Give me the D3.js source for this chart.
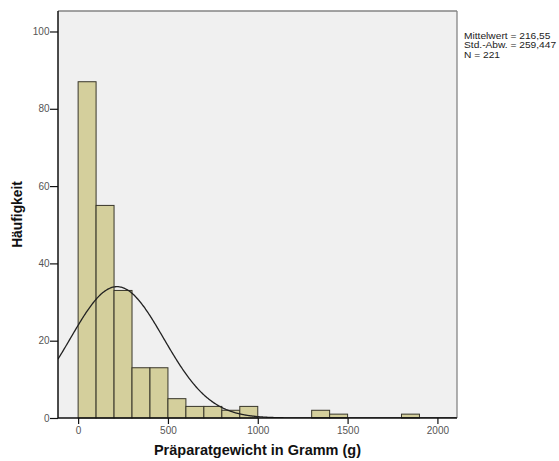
<!DOCTYPE html>
<html>
<head>
<meta charset="utf-8">
<script src="https://cdn.jsdelivr.net/npm/d3@7"></script>
<style>
  body { margin: 0; background: #fff; }
  svg { font-family: "Liberation Sans", Arial, sans-serif; }
</style>
</head>
<body>
<div id="chart-area"></div>
<script>
// histogram bins (lower edge, width 100) and counts
var binStarts = [0, 100, 200, 300, 400, 500, 600, 700, 800, 900, 1300, 1400, 1800];
var counts    = [87, 55, 33, 13, 13, 5, 3, 3, 2, 3, 2, 1, 1];
var binWidth = 100;

var xTicks = [0, 500, 1000, 1500, 2000];
var yTicks = [0, 20, 40, 60, 80, 100];

var mean = 216.55, sd = 259.447, n = 221;
var statLines = ["Mittelwert = 216,55", "Std.-Abw. = 259,447", "N = 221"];

var margin = {left: 58, right: 102, top: 11, bottom: 43};
var width = 559 - margin.left - margin.right;
var height = 461 - margin.top - margin.bottom;

var svg = d3.select("#chart-area").append("svg")
    .attr("width", 559)
    .attr("height", 461);

var g = svg.append("g")
    .attr("transform", "translate(" + margin.left + "," + margin.top + ")");

var x = d3.scaleLinear()
    .domain([-112, 2109])
    .range([0, width]);

var y = d3.scaleLinear()
    .domain([0, 105.3])
    .range([height, 0]);

g.append("rect")
    .attr("width", width)
    .attr("height", height)
    .attr("fill", "#f0f0f0");

g.append("clipPath").attr("id", "clip")
    .append("rect").attr("width", width).attr("height", height);

g.selectAll(".bar")
    .data(binStarts)
    .enter().append("rect")
    .attr("class", "bar")
    .attr("x", function(d) { return x(d); })
    .attr("y", function(d, i) { return y(counts[i]); })
    .attr("width", function(d) { return x(d + binWidth) - x(d); })
    .attr("height", function(d, i) { return y(0) - y(counts[i]); })
    .attr("fill", "#d4cf9c")
    .attr("stroke", "#38362a")
    .attr("stroke-width", 1);

// normal curve scaled to counts
var scale = n * binWidth / (sd * Math.sqrt(2 * Math.PI));
var curveX = d3.range(-112, 2110, 4);
var line = d3.line()
    .x(function(d) { return x(d); })
    .y(function(d) {
        var z = (d - mean) / sd;
        return y(scale * Math.exp(-0.5 * z * z));
    })
    .curve(d3.curveBasis);

g.append("path")
    .attr("clip-path", "url(#clip)")
    .attr("d", line(curveX))
    .attr("fill", "none")
    .attr("stroke", "#222")
    .attr("stroke-width", 1.3);

// frame: top/right lighter, left/bottom dark
g.append("line").attr("x1", 0).attr("x2", width).attr("y1", 0).attr("y2", 0)
    .attr("stroke", "#858585").attr("stroke-width", 1.3);
g.append("line").attr("x1", width).attr("x2", width).attr("y1", 0).attr("y2", height)
    .attr("stroke", "#858585").attr("stroke-width", 1.3);

var xAxis = g.append("g")
    .attr("transform", "translate(0," + height + ")")
    .call(d3.axisBottom(x).tickValues(xTicks).tickFormat(d3.format("d"))
        .tickSize(6).tickPadding(3));

var yAxis = g.append("g")
    .call(d3.axisLeft(y).tickValues(yTicks).tickFormat(d3.format("d"))
        .tickSize(8).tickPadding(0.5));

[xAxis, yAxis].forEach(function(a) {
    a.select(".domain").attr("stroke", "#111").attr("stroke-width", 1.5);
    a.selectAll(".tick line").attr("stroke", "#111").attr("stroke-width", 1.2);
    a.selectAll(".tick text")
        .attr("fill", "#555")
        .style("font-size", "10px")
        .style("font-family", "'Liberation Sans', Arial, sans-serif");
});
yAxis.select(".domain").attr("d", "M0," + height + "V0");
xAxis.select(".domain").attr("d", "M0,0H" + width);

g.append("text")
    .attr("x", width / 2)
    .attr("y", height + 37)
    .attr("text-anchor", "middle")
    .attr("font-weight", "bold")
    .attr("font-size", "14.5px")
    .attr("fill", "#111")
    .text("Präparatgewicht in Gramm (g)");

g.append("text")
    .attr("transform", "rotate(-90)")
    .attr("x", -height / 2)
    .attr("y", -36)
    .attr("text-anchor", "middle")
    .attr("font-weight", "bold")
    .attr("font-size", "13.8px")
    .attr("fill", "#111")
    .text("Häufigkeit");

svg.append("g")
    .attr("transform", "translate(" + (margin.left + width + 7) + ",0) scale(1.16,1)")
    .selectAll("text")
    .data(statLines)
    .enter().append("text")
    .attr("x", 0)
    .attr("y", function(d, i) { return 39 + i * 9.5; })
    .attr("font-size", "8.8px")
    .attr("fill", "#222")
    .text(function(d) { return d; });
</script>
</body>
</html>
